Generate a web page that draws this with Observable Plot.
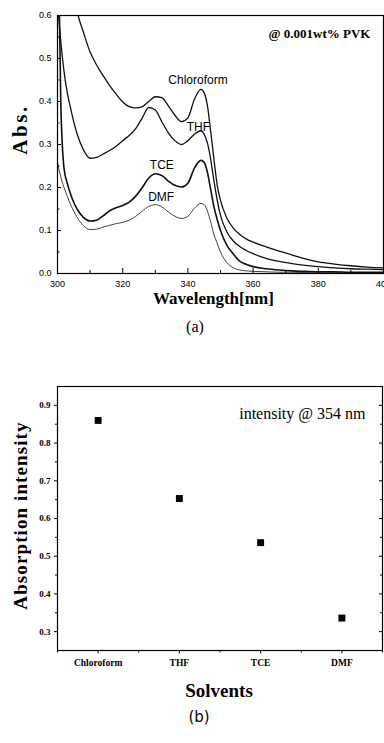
<!DOCTYPE html>
<html><head><meta charset="utf-8">
<script src="https://cdn.jsdelivr.net/npm/d3@7"></script>
<script src="https://cdn.jsdelivr.net/npm/@observablehq/plot@0.6"></script>
<style>
html,body{margin:0;padding:0;background:#fff}
body{width:384px;height:743px;overflow:hidden;position:relative}
#a,#b{position:absolute;left:0}
#a{top:0}
#b{top:370px}
.cap{position:absolute;left:0;width:384px;text-align:center;color:#000}
</style></head><body>
<div id="a"></div>
<div class="cap" style="top:318px;font:16px 'Liberation Serif',serif;padding-left:6px;box-sizing:border-box">(a)</div>
<div id="b"></div>
<div class="cap" style="top:708px;font:15px 'DejaVu Sans',sans-serif;padding-left:14px;box-sizing:border-box">(b)</div>
<script>
// ---------- Panel (a): absorption spectra ----------
const wavelength = [300,301,302,303,304,305,306,308,310,312,314,316,318,320,322,324,326,328,330,332,334,336,338,340,342,344,345,346,347,348,349,350,352,354,356,358,360,364,368,372,376,380,385,390,395,400];
const chloroform = [0.95,0.88,0.81,0.75,0.70,0.65,0.61,0.56,0.515,0.485,0.46,0.437,0.417,0.399,0.388,0.385,0.388,0.400,0.411,0.409,0.390,0.368,0.353,0.362,0.405,0.428,0.420,0.390,0.330,0.265,0.205,0.170,0.128,0.105,0.090,0.080,0.073,0.062,0.052,0.043,0.034,0.027,0.022,0.018,0.015,0.013];
const thf = [0.63,0.54,0.47,0.42,0.385,0.352,0.325,0.287,0.268,0.270,0.278,0.286,0.296,0.309,0.321,0.337,0.362,0.386,0.380,0.353,0.327,0.309,0.300,0.309,0.324,0.332,0.324,0.303,0.265,0.215,0.170,0.135,0.096,0.075,0.062,0.053,0.046,0.035,0.028,0.023,0.019,0.016,0.013,0.011,0.010,0.009];
const tce = [0.90,0.40,0.245,0.21,0.185,0.165,0.150,0.130,0.122,0.124,0.134,0.146,0.153,0.158,0.166,0.180,0.200,0.222,0.232,0.228,0.215,0.205,0.201,0.210,0.245,0.263,0.258,0.235,0.195,0.155,0.125,0.100,0.065,0.045,0.028,0.021,0.016,0.011,0.008,0.006,0.005,0.004,0.004,0.003,0.003,0.003];
const dmf = [0.258,0.225,0.200,0.180,0.160,0.145,0.131,0.111,0.102,0.103,0.108,0.112,0.116,0.119,0.124,0.133,0.145,0.156,0.160,0.155,0.143,0.133,0.128,0.133,0.152,0.163,0.160,0.145,0.120,0.090,0.070,0.050,0.025,0.013,0.008,0.006,0.005,0.004,0.003,0.003,0.002,0.002,0.002,0.002,0.002,0.002];
const solventNames = ["Chloroform","THF","TCE","DMF"];
const labelWavelength = [343.1, 343.2, 332.0, 331.8];
const labelAbs = [0.449, 0.340, 0.253, 0.177];
const xMajor = [300,320,340,360,380,400];
const xMinor = [310,330,350,370,390];
const yMajorA = [0,0.1,0.2,0.3,0.4,0.5,0.6];
const yMinorA = [0.05,0.15,0.25,0.35,0.45,0.55];

// ---------- Panel (b): intensity at 354 nm ----------
const intensity354 = [0.86, 0.653, 0.536, 0.336];
const yMajorB = [0.3,0.4,0.5,0.6,0.7,0.8,0.9];
const yMinorB = [0.35,0.45,0.55,0.65,0.75,0.85];

const seriesValues = [chloroform, thf, tce, dmf];
const widths = {Chloroform:1.3, THF:1.3, TCE:1.6, DMF:0.8};
const spectra = solventNames.flatMap((name, s) =>
  wavelength.map((w, i) => ({name, w, a: seriesValues[s][i]})));
const labels = solventNames.map((name, i) => ({name, w: labelWavelength[i], a: labelAbs[i]}));

const sans = "'Liberation Sans', Arial, sans-serif";
const serif = "'Liberation Serif', 'Times New Roman', serif";

function spaceText(svg, content, spacing) {
  d3.select(svg).selectAll("text").filter(function () { return this.textContent === content; })
    .attr("letter-spacing", spacing);
}

// frame geometry of panel (a)
const A = {w:384, h:310, mt:15, ml:57, mr:1, mb:37};
const fhA = A.h - A.mt - A.mb, fwA = A.w - A.ml - A.mr;

const plotA = Plot.plot({
  width: A.w, height: A.h,
  marginTop: A.mt, marginLeft: A.ml, marginRight: A.mr, marginBottom: A.mb,
  style: {background: "#fff", color: "#000", fontFamily: sans, overflow: "visible"},
  x: {domain: [300, 400], axis: null},
  y: {domain: [0, 0.6], axis: null},
  marks: [
    ...solventNames.map(n => Plot.line(spectra.filter(d => d.name === n), {
      x: "w", y: "a", stroke: "#111", strokeWidth: widths[n], curve: "monotone-x", clip: true
    })),
    Plot.frame({stroke: "#000", strokeWidth: 1.2}),
    Plot.tickX(xMajor, {x: d => d, insetTop: fhA - 5, stroke: "#000"}),
    Plot.tickX(xMinor, {x: d => d, insetTop: fhA - 3, stroke: "#000"}),
    Plot.tickY(yMajorA, {y: d => d, insetRight: fwA - 4, stroke: "#000"}),
    Plot.tickY(yMinorA, {y: d => d, insetRight: fwA - 2.5, stroke: "#000"}),
    Plot.axisX({ticks: xMajor, tickSize: 0, tickPadding: 7, tickFormat: d => String(d), fontSize: 9, fontFamily: sans, label: null}),
    Plot.axisY({ticks: yMajorA, tickSize: 0, tickPadding: 6, tickFormat: d => d.toFixed(1), fontSize: 9, fontFamily: sans, label: null}),
    Plot.text(labels, {x: "w", y: "a", text: "name", fontSize: 12, fontFamily: sans, fill: "#000"}),
    Plot.text(["Abs."], {frameAnchor: "left", textAnchor: "middle", lineAnchor: "middle", rotate: -90, dx: -37, dy: -15, fontSize: 21, fontWeight: "bold", fontFamily: serif, fill: "#000"}),
    Plot.text(["Wavelength[nm]"], {frameAnchor: "bottom", textAnchor: "middle", lineAnchor: "middle", dx: -7, dy: 25, fontSize: 17, fontWeight: "bold", fontFamily: serif, fill: "#000"}),
    Plot.text(["@ 0.001wt% PVK"], {frameAnchor: "top-right", textAnchor: "end", lineAnchor: "middle", dx: -13, dy: 18, fontSize: 13, fontWeight: "bold", fontFamily: serif, fill: "#000"})
  ]
});
spaceText(plotA, "Abs.", 2.5);
document.getElementById("a").appendChild(plotA);

// frame geometry of panel (b)
const B = {w:384, h:335, mt:16, ml:57, mr:2, mb:55};
const fhB = B.h - B.mt - B.mb, fwB = B.w - B.ml - B.mr;
const catPos = solventNames.map((_, i) => i + 1);
const catMinor = [0.5, 1.5, 2.5, 3.5, 4.5];
const points = solventNames.map((name, i) => ({name, pos: i + 1, v: intensity354[i]}));

const plotB = Plot.plot({
  width: B.w, height: B.h,
  marginTop: B.mt, marginLeft: B.ml, marginRight: B.mr, marginBottom: B.mb,
  style: {background: "#fff", color: "#000", fontFamily: serif, overflow: "visible"},
  x: {domain: [0.5, 4.5], axis: null},
  y: {domain: [0.25, 0.95], axis: null},
  marks: [
    Plot.frame({stroke: "#000", strokeWidth: 1.2}),
    Plot.axisX({ticks: catPos, tickSize: 3.5, tickPadding: 5, tickFormat: d => solventNames[d - 1], fontSize: 9.5, fontWeight: "bold", fontFamily: serif, label: null}),
    Plot.axisX({ticks: catMinor, tickSize: 2.5, tickFormat: () => "", label: null}),
    Plot.axisY({ticks: yMajorB, tickSize: 3, tickPadding: 4, tickFormat: d => d.toFixed(1), fontSize: 9, fontWeight: "bold", fontFamily: serif, label: null}),
    Plot.axisY({ticks: yMinorB, tickSize: 2, tickFormat: () => "", label: null}),
    Plot.tickY(yMajorB, {y: d => d, insetLeft: fwB - 3, stroke: "#000"}),
    Plot.tickY(yMinorB, {y: d => d, insetLeft: fwB - 2, stroke: "#000"}),
    Plot.dot(points, {x: "pos", y: "v", symbol: "square", r: 3.9, fill: "#000", stroke: null}),
    Plot.text(["intensity @ 354 nm"], {frameAnchor: "top-right", textAnchor: "end", lineAnchor: "middle", dx: -17, dy: 27, fontSize: 16, fontFamily: serif, fill: "#000"}),
    Plot.text(["Absorption intensity"], {frameAnchor: "left", textAnchor: "middle", lineAnchor: "middle", rotate: -90, dx: -37, dy: -3, fontSize: 19, fontWeight: "bold", fontFamily: serif, fill: "#000"}),
    Plot.text(["Solvents"], {frameAnchor: "bottom", textAnchor: "middle", lineAnchor: "middle", dx: -1, dy: 40, fontSize: 19, fontWeight: "bold", fontFamily: serif, fill: "#000"})
  ]
});
spaceText(plotB, "Absorption intensity", 1.1);
document.getElementById("b").appendChild(plotB);
</script>
</body></html>
